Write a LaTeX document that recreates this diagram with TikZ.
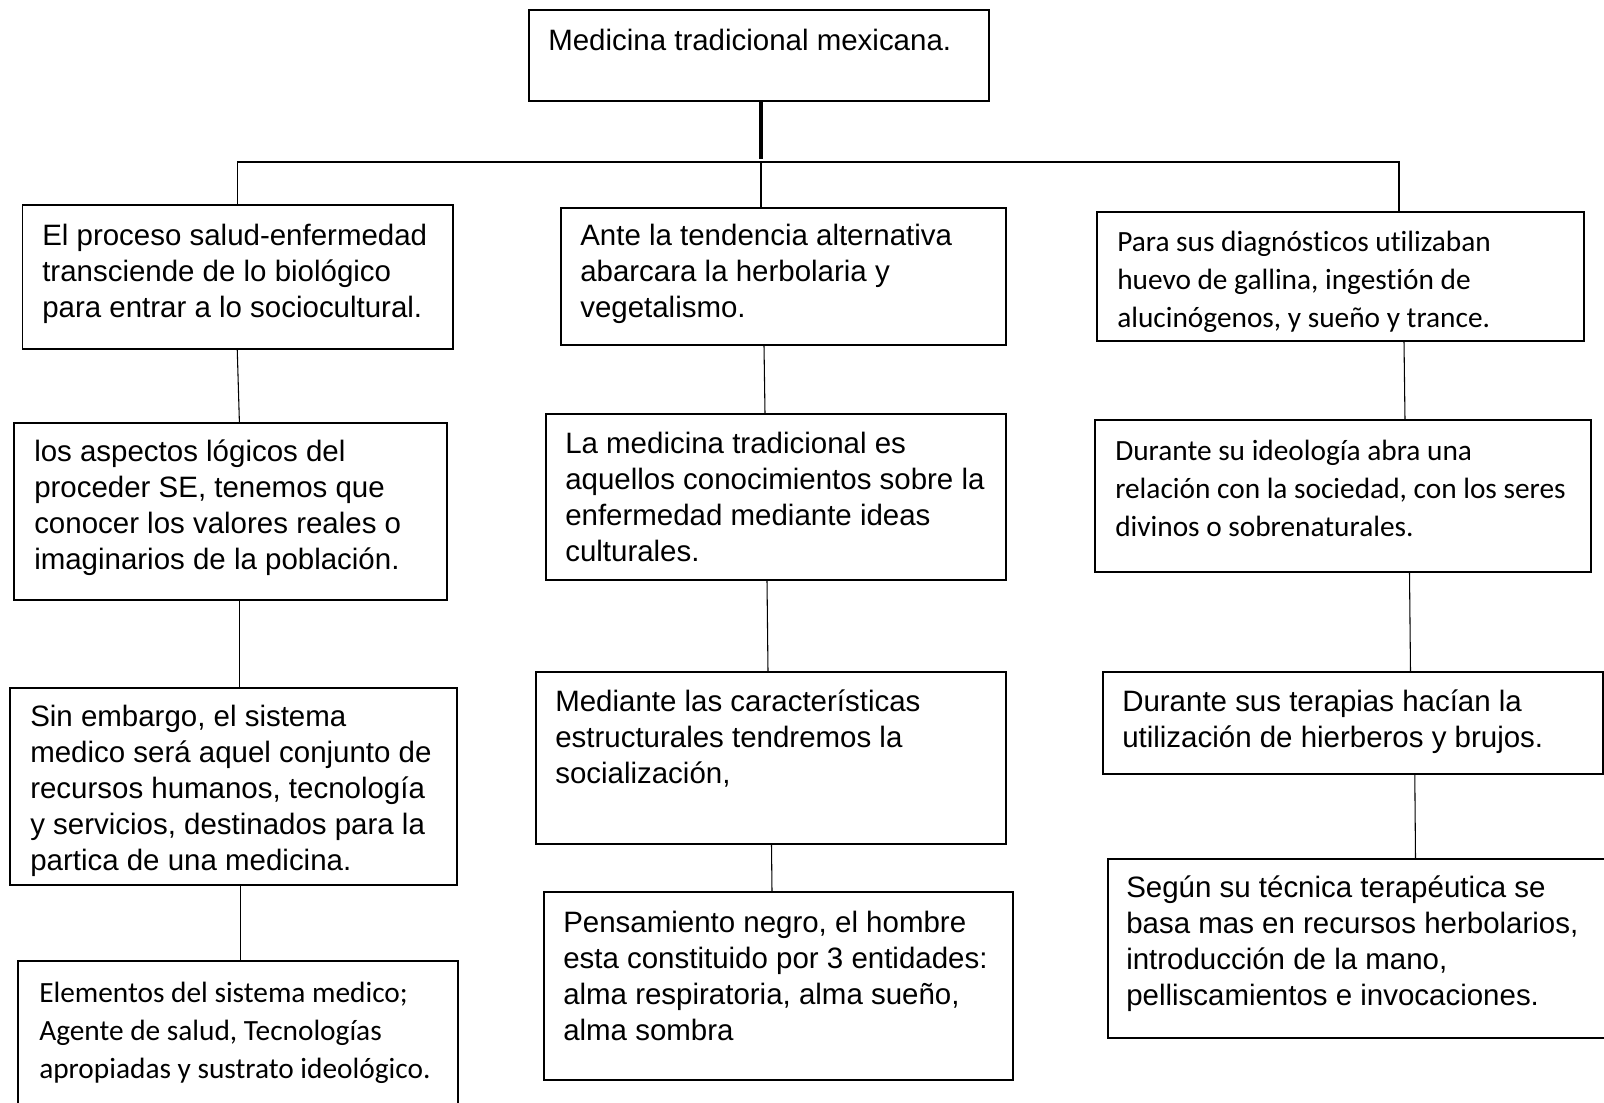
\documentclass[tikz,border=0pt]{standalone}
\usepackage{fontspec}
\setmainfont{Liberation Sans}
\newfontfamily\calibrifont[Ligatures=NoCommon]{Carlito}
\usetikzlibrary{fit,calc}
\newcommand\firstln{\rule{0pt}{22pt}}
\begin{document}
\begin{tikzpicture}[x=0.75pt,y=-0.75pt,
  box/.style={draw=black, line width=0.9pt, inner sep=0pt},
  conn/.style={draw=black, line width=0.8pt},
  thickconn/.style={draw=black, line width=2.6pt},
  txt/.style={anchor=north west, inner sep=0pt, align=left, yshift=22pt,
    font=\fontsize{22.1}{27}\selectfont},
  ctxt/.style={anchor=north west, inner sep=0pt, align=left, yshift=22pt,
    font=\calibrifont\fontsize{22}{28.5}\selectfont}]
\useasboundingbox[fill=white] (0,0) rectangle (1604,1103);

% boxes
\node[box, fit={(529,10) (989,101)}] (top) {};
\node[box, fit={(22.5,205) (453,349)}] (b1) {};
\node[box, fit={(14,423) (447,600)}] (b2) {};
\node[box, fit={(10,688) (457,885)}] (b3) {};
\node[box, fit={(18,961) (458,1115)}] (b4) {};
\node[box, fit={(561,208) (1006,345)}] (c1) {};
\node[box, fit={(546,414) (1006,580)}] (c2) {};
\node[box, fit={(536,672) (1006,844)}] (c3) {};
\node[box, fit={(544,892) (1013,1080)}] (c4) {};
\node[box, fit={(1097,212) (1584,341)}] (d1) {};
\node[box, fit={(1095,420) (1591,572)}] (d2) {};
\node[box, fit={(1103,672) (1603,774)}] (d3) {};
\node[box, fit={(1108,859) (1612,1038)}] (d4) {};

% texts
\node[txt] (ttop) at (548,50) {\firstln Medicina tradicional mexicana.};
\node[txt] (tb1) at (42,245) {\firstln El proceso salud-enfermedad\\transciende de lo biológico\\para entrar a lo sociocultural.};
\node[txt] (tb2) at (34,461) {\firstln los aspectos lógicos del\\proceder SE, tenemos que\\conocer los valores reales o\\imaginarios de la población.};
\node[txt] (tb3) at (30,726) {\firstln Sin embargo, el sistema\\medico será aquel conjunto de\\recursos humanos, tecnología\\y servicios, destinados para la\\partica de una medicina.};
\node[ctxt] (tb4) at (39,1002) {\firstln Elementos del sistema medico;\\Agente de salud, Tecnologías\\apropiadas y sustrato ideológico.};
\node[txt] (tc1) at (580,245) {\firstln Ante la tendencia alternativa\\abarcara la herbolaria y\\vegetalismo.};
\node[txt] (tc2) at (565,453) {\firstln La medicina tradicional es\\aquellos conocimientos sobre la\\enfermedad mediante ideas\\culturales.};
\node[txt] (tc3) at (555,711) {\firstln Mediante las características\\estructurales tendremos la\\socialización,};
\node[txt] (tc4) at (563,932) {\firstln Pensamiento negro, el hombre\\esta constituido por 3 entidades:\\alma respiratoria, alma sueño,\\alma sombra};
\node[ctxt] (td1) at (1117,251) {\firstln Para sus diagnósticos utilizaban\\huevo de gallina, ingestión de\\alucinógenos, y sueño y trance.};
\node[ctxt] (td2) at (1115,460) {\firstln Durante su ideología abra una\\relación con la sociedad, con los seres\\divinos o sobrenaturales.};
\node[txt] (td3) at (1122,711) {\firstln Durante sus terapias hacían la\\utilización de hierberos y brujos.};
\node[txt] (td4) at (1126,897) {\firstln Según su técnica terapéutica se\\basa mas en recursos herbolarios,\\introducción de la mano,\\pelliscamientos e invocaciones.};

% bus
\coordinate (busC) at (761,162);
\coordinate (busR) at (1399,162);
\draw[thickconn] ($(top.south)+(2,0)$) -- ($(busC)+(0,-3)$);
\draw[conn] ($(b1.north)+(-0.5,0)$) |- (busR) -- ($(d1.north)+(58.5,0)$);
\draw[conn] (busC) -- ($(c1.north)+(-22.5,0)$);

% column 1
\draw[conn] ($(b1.south)+(-0.5,0)$) -- ($(b2.north)+(8.9,0)$);
\draw[conn] ($(b2.south)+(8.9,0)$) -- ($(b3.north)+(5.9,0)$);
\draw[conn] ($(b3.south)+(6.9,0)$) -- ($(b4.north)+(2.4,0)$);
% column 2
\draw[conn] ($(c1.south)+(-19.5,0)$) -- ($(c2.north)+(-11,0)$);
\draw[conn] ($(c2.south)+(-9,0)$) -- ($(c3.north)+(-3,0)$);
\draw[conn] ($(c3.south)+(0.5,0)$) -- ($(c4.north)+(-6.5,0)$);
% column 3
\draw[conn] ($(d1.south)+(63.5,0)$) -- ($(d2.north)+(62,0)$);
\draw[conn] ($(d2.south)+(66.5,0)$) -- ($(d3.north)+(57.5,0)$);
\draw[conn] ($(d3.south)+(61.8,0)$) -- ($(d4.north)+(55.5,0)$);
\end{tikzpicture}
\end{document}
